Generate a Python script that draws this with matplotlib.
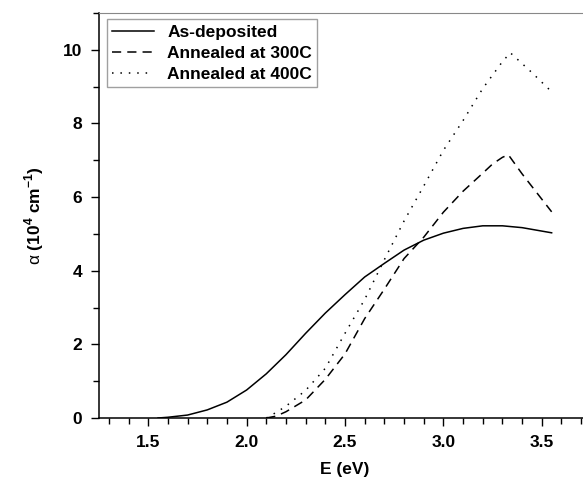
import matplotlib
matplotlib.use("Agg")
import matplotlib.pyplot as plt
from matplotlib.ticker import MultipleLocator

plt.rcParams['font.family'] = ['Liberation Sans', 'DejaVu Sans']
plt.rcParams['mathtext.fontset'] = 'custom'
plt.rcParams['mathtext.rm'] = 'Liberation Sans'
plt.rcParams['mathtext.bf'] = 'Liberation Sans:bold'

# absorption coefficient (10^4 cm^-1) vs photon energy (eV)
e_asdep = [1.55, 1.6, 1.7, 1.8, 1.9, 2.0, 2.1, 2.2, 2.3, 2.4, 2.5, 2.6, 2.7,
           2.8, 2.9, 3.0, 3.1, 3.2, 3.3, 3.4, 3.55]
a_asdep = [0.0, 0.02, 0.08, 0.22, 0.43, 0.76, 1.2, 1.72, 2.3, 2.85, 3.35, 3.83,
           4.2, 4.56, 4.83, 5.02, 5.15, 5.22, 5.22, 5.17, 5.03]

e_300 = [2.1, 2.15, 2.2, 2.3, 2.4, 2.5, 2.6, 2.7, 2.8, 2.9, 3.0, 3.1, 3.2,
         3.25, 3.3, 3.33, 3.4, 3.55]
a_300 = [0.0, 0.05, 0.17, 0.49, 1.05, 1.74, 2.7, 3.5, 4.33, 4.91, 5.59, 6.16,
         6.65, 6.9, 7.08, 7.15, 6.63, 5.6]

e_400 = [2.1, 2.15, 2.2, 2.3, 2.4, 2.5, 2.6, 2.7, 2.8, 2.9, 3.0, 3.1, 3.2,
         3.3, 3.34, 3.45, 3.55]
a_400 = [0.0, 0.15, 0.32, 0.75, 1.35, 2.3, 3.22, 4.3, 5.35, 6.3, 7.27, 8.08,
         8.95, 9.68, 9.92, 9.38, 8.86]

fig = plt.figure(figsize=(5.83, 4.8), dpi=100)
ax = fig.add_axes([99/583, 62/480, 492/583, 405/480])

ax.plot(e_asdep, a_asdep, color='black', lw=1.1, ls='-', label='As-deposited')
ax.plot(e_300, a_300, color='black', lw=1.1, ls=(0, (6, 4)), label='Annealed at 300C')
ax.plot(e_400, a_400, color='black', lw=1.1, ls=(0, (1, 4.5)), label='Annealed at 400C')

ax.set_xlim(1.25, 3.75)
ax.set_ylim(0, 11)
ax.xaxis.set_major_locator(MultipleLocator(0.5))
ax.xaxis.set_minor_locator(MultipleLocator(0.1))
ax.yaxis.set_major_locator(MultipleLocator(2))
ax.yaxis.set_minor_locator(MultipleLocator(1))
ax.xaxis.set_major_formatter(matplotlib.ticker.FormatStrFormatter('%.1f'))
ax.tick_params(axis='both', which='major', direction='out', length=6, width=1,
               labelsize=12.5, pad=6)
ax.tick_params(axis='both', which='minor', direction='out', length=4, width=1)
for lab in ax.get_xticklabels() + ax.get_yticklabels():
    lab.set_fontweight('bold')

ax.spines['top'].set_color('#888888')
ax.spines['right'].set_visible(False)
ax.spines['left'].set_linewidth(1.1)
ax.spines['bottom'].set_linewidth(1.1)

ax.set_xlabel('E (eV)', fontsize=12.5, fontweight='bold', labelpad=9)
ax.set_ylabel(r'$\mathrm{\alpha}$ (10$^{\mathbf{4}}$ cm$^{\mathbf{-1}}$)',
              fontsize=12.5, fontweight='bold', labelpad=12)

leg = ax.legend(loc='upper left', bbox_to_anchor=(0.005, 0.997), borderaxespad=0.3,
                frameon=True, fancybox=False, edgecolor='#888888',
                handlelength=2.4, handletextpad=0.8, borderpad=0.3,
                labelspacing=0.35, prop={'weight': 'bold', 'size': 12.5})
leg.get_frame().set_linewidth(1.0)

fig.savefig('out.png', dpi=100)
